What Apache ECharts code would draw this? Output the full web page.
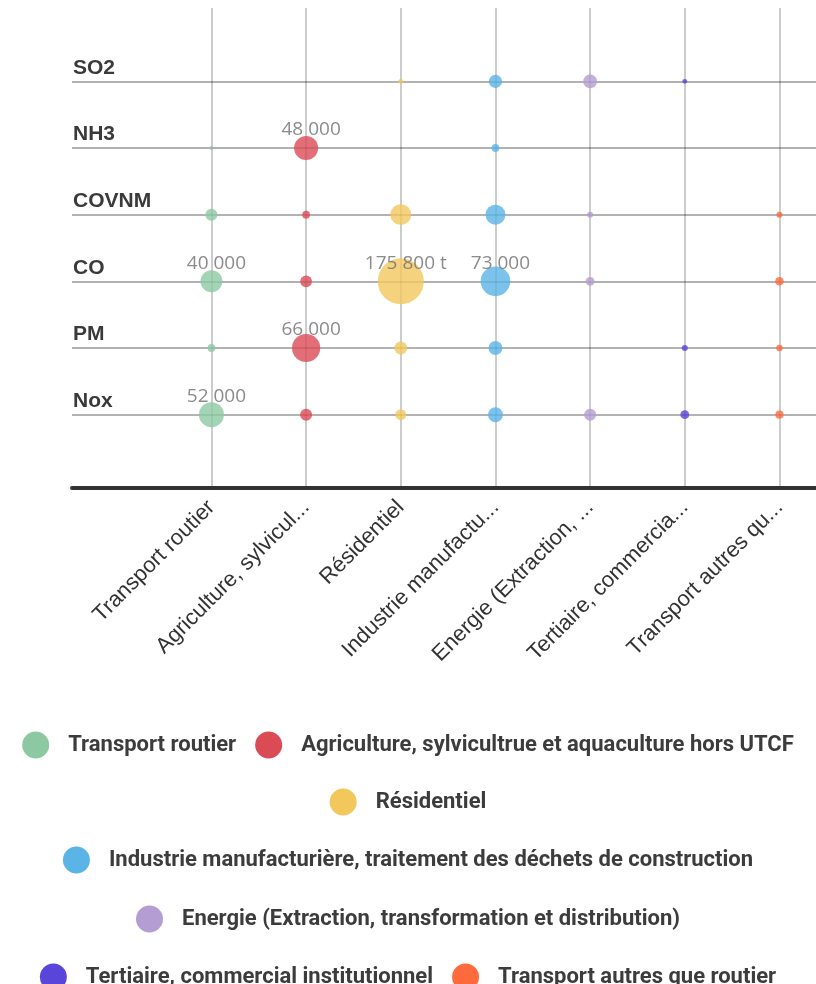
<!DOCTYPE html>
<html>
<head>
<meta charset="utf-8">
<script src="https://cdn.jsdelivr.net/npm/echarts@6/dist/echarts.min.js"></script>
<style>
  html, body { margin: 0; padding: 0; background: #ffffff; }
  #chart { width: 816px; height: 984px; }
</style>
</head>
<body>
<div id="chart"></div>
<script>
// Pollutants, bottom row first
const pollutants = ['Nox', 'PM', 'CO', 'COVNM', 'NH3', 'SO2'];

// Emitting sectors (legend names) and their shortened axis labels
const sectors = [
  'Transport routier',
  'Agriculture, sylvicultrue et aquaculture hors UTCF',
  'Résidentiel',
  'Industrie manufacturière, traitement des déchets de construction',
  'Energie (Extraction, transformation et distribution)',
  'Tertiaire, commercial institutionnel',
  'Transport autres que routier'
];
const sectorTicks = [
  'Transport routier',
  'Agriculture, sylvicul...',
  'Résidentiel',
  'Industrie manufactu...',
  'Energie (Extraction, ...',
  'Tertiaire, commercia...',
  'Transport autres qu...'
];
const sectorColors = ['#8cc9a3', '#db4b55', '#f2c75c', '#5ab4e5', '#b49dd2', '#5a45da', '#ff6a3d'];

// Emissions in tonnes, one value per pollutant (Nox, PM, CO, COVNM, NH3, SO2)
const transportRoutier = [52000, 5000, 40000, 12000, 1300, 0];
const agriculture      = [12000, 66000, 11500, 5000, 48000, 0];
const residentiel      = [10000, 14000, 175800, 36000, 0, 2000];
const industrie        = [18500, 16000, 73000, 33000, 5000, 14500];
const energie          = [12000, 0, 6500, 3000, 0, 16000];
const tertiaire        = [6500, 3000, 0, 0, 0, 2000];
const transportAutres  = [5500, 3500, 6000, 3000, 0, 0];

const emissions = [transportRoutier, agriculture, residentiel, industrie, energie, tertiaire, transportAutres];

// Values written next to their bubble
const annotated = [['Nox', 'CO'], ['PM', 'NH3'], ['CO'], ['CO'], [], [], []];
const unitNote = { sector: 2, pollutant: 'CO', unit: ' t' };

// Legend rows, by sector index
const legendRows = [[0, 1], [2], [3], [4], [5, 6]];
const legendRowCenters = [740, 797, 855, 914, 972];

const SIZE_K = 0.1097; // bubble diameter per sqrt(tonne)

function formatTonnes(v) {
  return String(Math.round(v)).replace(/\B(?=(\d{3})+(?!\d))/g, ' ');
}

const tickPositions = sectors.map((_, i) => i);
const rowPositions = pollutants.map((_, j) => j + 1);

const chart = echarts.init(document.getElementById('chart'), null, { renderer: 'canvas' });

const series = sectors.map((name, i) => ({
  name: name,
  type: 'scatter',
  symbolSize: d => SIZE_K * Math.sqrt(d[2]),
  itemStyle: { color: sectorColors[i], opacity: 0.8 },
  emphasis: { disabled: true },
  label: {
    show: false,
    position: 'inside',
    offset: [5, -18],
    fontFamily: 'Open Sans',
    fontSize: 19,
    color: '#6e6e6e',
    formatter: p => {
      const pol = pollutants[p.data.value[1] - 1];
      const suffix = (i === unitNote.sector && pol === unitNote.pollutant) ? unitNote.unit : '';
      return formatTonnes(p.data.value[2]) + suffix;
    }
  },
  data: emissions[i]
    .map((v, j) => ({
      value: [i, j + 1, v],
      label: { show: annotated[i].includes(pollutants[j]) }
    }))
    .filter(d => d.value[2] > 0)
}));

const legends = legendRows.map((row, r) => ({
  data: row.map(k => sectors[k]),
  left: 'center',
  top: legendRowCenters[r] - 13.5,
  orient: 'horizontal',
  icon: 'circle',
  itemWidth: 27,
  itemHeight: 27,
  itemGap: 19,
  selectedMode: false,
  itemStyle: { opacity: 1 },
  textStyle: {
    fontFamily: 'Roboto',
    fontWeight: 'bold',
    fontSize: 22,
    color: '#3c3c3c',
    padding: [0, 0, 0, 14]
  }
}));

chart.setOption({
  animation: false,
  backgroundColor: '#ffffff',
  grid: { left: 72, right: 0, top: 8, bottom: 496 },
  xAxis: {
    type: 'value',
    min: -1.473,
    max: 6.386,
    axisLine: { show: true, onZero: false, lineStyle: { color: '#333333', width: 4 } },
    axisTick: { show: false, customValues: tickPositions },
    axisLabel: {
      customValues: tickPositions,
      rotate: 45,
      margin: 16,
      fontFamily: 'Liberation Sans',
      fontSize: 22,
      color: '#333333',
      formatter: v => sectorTicks[Math.round(v)]
    },
    splitLine: { show: true, customValues: tickPositions, lineStyle: { color: 'rgba(0,0,0,0.2)', width: 2 } }
  },
  yAxis: {
    type: 'value',
    min: -0.1,
    max: 7.1,
    axisLine: { show: false },
    axisTick: { show: false, customValues: rowPositions },
    axisLabel: {
      customValues: rowPositions,
      inside: true,
      margin: 1,
      align: 'left',
      verticalAlign: 'bottom',
      padding: [0, 0, 3, 0],
      fontFamily: 'Liberation Sans',
      fontWeight: 'bold',
      fontSize: 21,
      color: '#3a3a3a',
      formatter: v => pollutants[Math.round(v) - 1]
    },
    splitLine: { show: true, customValues: rowPositions, lineStyle: { color: 'rgba(0,0,0,0.3)', width: 2 } }
  },
  legend: legends,
  series: series
});
</script>
</body>
</html>
